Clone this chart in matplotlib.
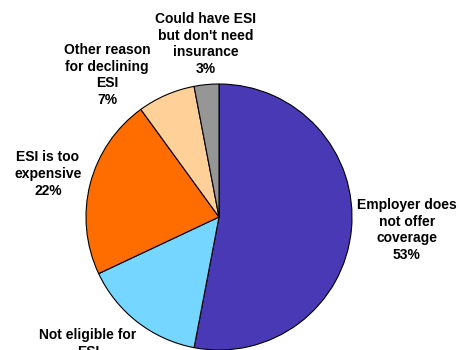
import matplotlib
matplotlib.use("Agg")
import matplotlib.pyplot as plt

categories = ["Employer does\nnot offer\ncoverage",
              "Not eligible for\nESI",
              "ESI is too\nexpensive",
              "Other reason\nfor declining\nESI",
              "Could have ESI\nbut don't need\ninsurance"]
values = [53, 15, 22, 7, 3]
colors = ["#4939B5", "#75D6FF", "#FF6C00", "#FFD199", "#969696"]

# label centre positions (pixels from top-left), layout only
label_pos = [(407, 230), (88, 352), (48, 174), (107, 75), (206, 44)]

W, H = 460, 350
fig = plt.figure(figsize=(W / 100, H / 100), dpi=100)
ax = fig.add_axes([0, 0, 1, 1])
cx, cy, r = 219, 217, 133
ax.pie(values, colors=colors, startangle=90, counterclock=False,
       center=(cx, H - cy), radius=r,
       wedgeprops=dict(edgecolor="black", linewidth=0.8))
ax.set_xlim(0, W)
ax.set_ylim(0, H)
ax.set_aspect("equal")
ax.axis("off")

for cat, v, (x, y) in zip(categories, values, label_pos):
    ax.text(x, H - y, f"{cat}\n{v}%", ha="center", va="center",
            fontsize=10, fontweight="bold", family="Liberation Sans",
            linespacing=1.25, color="black")

fig.savefig("out.png", dpi=100)
